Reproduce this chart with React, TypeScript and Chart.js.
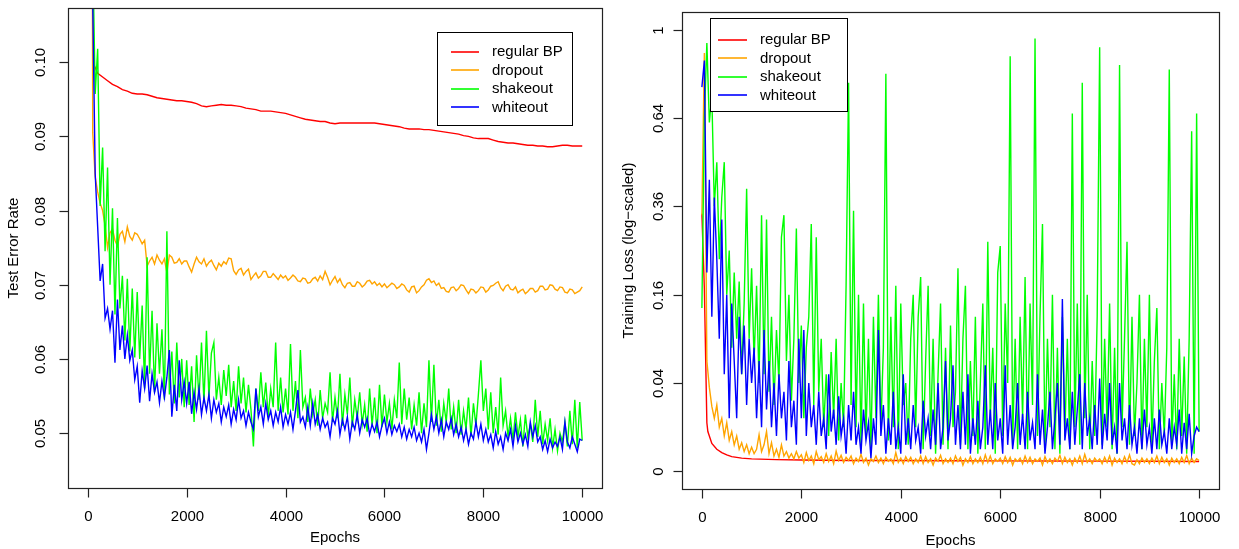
import React, { useEffect, useRef } from "react";
import { Chart, registerables } from "chart.js";

Chart.register(...registerables);

// ---------------- categories / ticks ----------------
const seriesNames = ["regular BP", "dropout", "shakeout", "whiteout"];
const fineEpochs = Array.from({ length: 201 }, (_, i) => i * 50);
const coarseEpochs = Array.from({ length: 101 }, (_, i) => i * 100);
const epochTicks = [0, 2000, 4000, 6000, 8000, 10000];
const epochTickLabels = ["0", "2000", "4000", "6000", "8000", "10000"];
const errorTicks = [0.05, 0.06, 0.07, 0.08, 0.09, 0.1];
const errorTickLabels = ["0.05", "0.06", "0.07", "0.08", "0.09", "0.10"];
const lossTicks = [0, 0.04, 0.16, 0.36, 0.64, 1];
const lossTickLabels = ["0", "0.04", "0.16", "0.36", "0.64", "1"];

// ---------------- left panel: test error rate ----------------
// coarse grid (every 100 epochs)
const regularBPError = [
  0.9, 0.1, 0.0985, 0.098, 0.0975, 0.097, 0.0967, 0.0963, 0.0961, 0.0958,
  0.0957, 0.0957, 0.0956, 0.0954, 0.0952, 0.0951, 0.095, 0.0949, 0.0948, 0.0948,
  0.0947, 0.0946, 0.0944, 0.0941, 0.094, 0.0941, 0.0942, 0.0943, 0.0942, 0.0942,
  0.0941, 0.094, 0.0938, 0.0937, 0.0936, 0.0934, 0.0934, 0.0934, 0.0933, 0.0932,
  0.0931, 0.0929, 0.0927, 0.0925, 0.0923, 0.0922, 0.0921, 0.092, 0.092, 0.0918,
  0.0917, 0.0918, 0.0918, 0.0918, 0.0918, 0.0918, 0.0918, 0.0918, 0.0918, 0.0917,
  0.0916, 0.0915, 0.0914, 0.0913, 0.0911, 0.091, 0.091, 0.091, 0.0909, 0.0909,
  0.0908, 0.0907, 0.0906, 0.0905, 0.0904, 0.0903, 0.0901, 0.09, 0.0898, 0.0897,
  0.0897, 0.0897, 0.0895, 0.0893, 0.0892, 0.0891, 0.0891, 0.089, 0.0889, 0.0888,
  0.0888, 0.0887, 0.0887, 0.0886, 0.0886, 0.0887, 0.0888, 0.0888, 0.0887, 0.0887,
  0.0887,
];
// fine grid (every 50 epochs)
const dropoutError = [
  0.9, 0.25, 0.0905, 0.0845, 0.0825, 0.081, 0.08, 0.078, 0.075, 0.077,
  0.0775, 0.076, 0.0752, 0.0768, 0.0772, 0.0758, 0.0778, 0.0765, 0.076, 0.077,
  0.0768, 0.0762, 0.0755, 0.076, 0.0725, 0.0732, 0.0737, 0.0728, 0.074, 0.0733,
  0.0728, 0.0735, 0.0716, 0.074, 0.0737, 0.0729, 0.073, 0.0735, 0.0728, 0.0732,
  0.0732, 0.0724, 0.0717, 0.0728, 0.0737, 0.0731, 0.0728, 0.0735, 0.0725, 0.073,
  0.0733, 0.0726, 0.072, 0.0729, 0.0725, 0.0731, 0.0728, 0.0736, 0.0735, 0.0719,
  0.0714, 0.072, 0.0722, 0.0713, 0.0718, 0.0721, 0.0707, 0.0712, 0.0716, 0.0709,
  0.0712, 0.0718, 0.0718, 0.071, 0.071, 0.0715, 0.0711, 0.0707, 0.0713, 0.0709,
  0.0712, 0.0706, 0.0709, 0.0713, 0.071, 0.0705, 0.0704, 0.0709, 0.0708, 0.0702,
  0.0703, 0.0708, 0.071, 0.0705, 0.0712, 0.0707, 0.0718, 0.071, 0.07, 0.0706,
  0.0711, 0.0703, 0.0708, 0.07, 0.0696, 0.0702, 0.0703, 0.0698, 0.0698, 0.0704,
  0.0702, 0.0697, 0.07, 0.0705, 0.0706, 0.0701, 0.0704, 0.0699, 0.0702, 0.0697,
  0.0701, 0.0696, 0.0699, 0.0702, 0.07, 0.0695, 0.0697, 0.0701, 0.0699, 0.0693,
  0.069, 0.0697, 0.0698, 0.0689, 0.0692, 0.0697, 0.07, 0.0706, 0.0708, 0.0703,
  0.0705, 0.0699, 0.0702, 0.0695, 0.0696, 0.0691, 0.069, 0.0696, 0.0697, 0.0692,
  0.0695, 0.07, 0.0699, 0.0693, 0.0688, 0.0694, 0.0693, 0.0689, 0.0692, 0.0697,
  0.0696, 0.069, 0.0693, 0.0698, 0.0699, 0.0702, 0.0704, 0.0696, 0.0692, 0.0698,
  0.07, 0.0694, 0.0693, 0.0697, 0.0689, 0.0692, 0.0694, 0.0688, 0.0691, 0.0695,
  0.0695, 0.069, 0.0692, 0.0698, 0.0698, 0.0693, 0.0694, 0.07, 0.0699, 0.0694,
  0.0692, 0.0697, 0.0696, 0.069, 0.0689, 0.0694, 0.0693, 0.0688, 0.069, 0.0692,
  0.0697,
];
const shakeoutError = [
  0.9, 0.3, 0.115, 0.0957, 0.1018, 0.0806, 0.0885, 0.0745, 0.0858, 0.07,
  0.0803, 0.066, 0.079, 0.0668, 0.0712, 0.0625, 0.0708, 0.061, 0.0695, 0.0602,
  0.069, 0.06, 0.0672, 0.056, 0.0737, 0.058, 0.0665, 0.0555, 0.0648, 0.058,
  0.064, 0.0545, 0.0772, 0.0552, 0.061, 0.054, 0.0622, 0.0548, 0.06, 0.0535,
  0.0598, 0.0538, 0.059, 0.0515, 0.0605, 0.0545, 0.0622, 0.054, 0.0638, 0.0548,
  0.0608, 0.0622, 0.0545, 0.0575, 0.0538, 0.0585, 0.055, 0.0592, 0.0535, 0.057,
  0.053, 0.059, 0.054, 0.0575, 0.0528, 0.0565, 0.0532, 0.0482, 0.056, 0.053,
  0.0582, 0.0535, 0.0568, 0.0522, 0.056, 0.0535, 0.0622, 0.053, 0.0575, 0.0528,
  0.056, 0.0525, 0.062, 0.053, 0.057, 0.052, 0.0612, 0.0535, 0.0548, 0.0515,
  0.056, 0.0525, 0.0545, 0.051, 0.0558, 0.052, 0.054, 0.0528, 0.0582, 0.0515,
  0.0548, 0.052, 0.058, 0.051, 0.0552, 0.0525, 0.0575, 0.0508, 0.0545, 0.052,
  0.0555, 0.0512, 0.0538, 0.0502, 0.056, 0.051, 0.0548, 0.05, 0.0565, 0.0508,
  0.0552, 0.0515, 0.054, 0.0505, 0.0545, 0.052, 0.0595, 0.0512, 0.056, 0.0518,
  0.0548, 0.0505, 0.0538, 0.051, 0.0555, 0.05, 0.054, 0.0508, 0.0598, 0.0515,
  0.0592, 0.051, 0.0545, 0.0502, 0.054, 0.0515, 0.056, 0.0505, 0.0535, 0.05,
  0.0545, 0.0498, 0.053, 0.0505, 0.0548, 0.0495, 0.054, 0.051, 0.0552, 0.0598,
  0.053, 0.056, 0.0505, 0.0555, 0.05, 0.0535, 0.0498, 0.0575, 0.051, 0.053,
  0.0495, 0.052, 0.049, 0.0528, 0.0495, 0.0518, 0.0482, 0.0525, 0.0495, 0.0512,
  0.0488, 0.0545, 0.0495, 0.053, 0.0485, 0.0512, 0.049, 0.052, 0.048, 0.0505,
  0.0476, 0.05, 0.0488, 0.0515, 0.0482, 0.053, 0.0485, 0.0545, 0.048, 0.0542,
  0.049,
];
const whiteoutError = [
  0.9, 0.25, 0.108, 0.085, 0.0778, 0.0705, 0.0728, 0.0655, 0.0668, 0.064,
  0.0665, 0.0595, 0.068, 0.0612, 0.0645, 0.06, 0.0632, 0.0598, 0.0612, 0.0572,
  0.059, 0.0541, 0.0584, 0.056, 0.0591, 0.0543, 0.058, 0.0555, 0.0569, 0.0541,
  0.057, 0.0548, 0.0575, 0.0612, 0.0522, 0.0565, 0.053, 0.0598, 0.0545, 0.0569,
  0.054, 0.0569, 0.0526, 0.0555, 0.0532, 0.056, 0.0525, 0.0548, 0.053, 0.0552,
  0.052, 0.0545, 0.0528, 0.054, 0.0515, 0.0535, 0.0522, 0.0538, 0.0512, 0.0532,
  0.0518, 0.0545, 0.052, 0.053, 0.051, 0.0528, 0.0515, 0.0505, 0.056, 0.0522,
  0.0535, 0.0512, 0.054, 0.0518, 0.053, 0.051, 0.0528, 0.0515, 0.0535, 0.0508,
  0.0525, 0.0512, 0.0528, 0.0505, 0.053, 0.0558, 0.0515, 0.0522, 0.0508, 0.0535,
  0.051, 0.054, 0.0512, 0.0525, 0.0505, 0.052, 0.0508, 0.0515, 0.0495, 0.052,
  0.0512, 0.053, 0.0498, 0.0518, 0.0505, 0.0522, 0.0492, 0.0515, 0.0505, 0.0525,
  0.05, 0.0518, 0.0508, 0.052, 0.0498, 0.0512, 0.0502, 0.0515, 0.0495, 0.051,
  0.052, 0.05, 0.0515, 0.0498, 0.051, 0.0502, 0.0512, 0.0495, 0.0508, 0.0492,
  0.0505, 0.0495, 0.0508, 0.049, 0.05, 0.0488, 0.0505, 0.0478, 0.05, 0.0525,
  0.0505, 0.0522, 0.05, 0.0518, 0.0495, 0.0515, 0.0505, 0.052, 0.0498, 0.0512,
  0.0495, 0.0508, 0.049, 0.0505, 0.0485, 0.05, 0.0492, 0.0515, 0.0495, 0.0512,
  0.049, 0.0505, 0.0488, 0.0498, 0.048, 0.0502, 0.0485, 0.0495, 0.0478, 0.05,
  0.049, 0.0505, 0.0482, 0.051, 0.0488, 0.05, 0.0485, 0.0498, 0.0482, 0.0515,
  0.0495, 0.051, 0.0488, 0.0495, 0.0478, 0.049, 0.0475, 0.0492, 0.048, 0.0488,
  0.0482, 0.0495, 0.0478, 0.0515, 0.0488, 0.048, 0.0495, 0.0485, 0.0475, 0.0492,
  0.049,
];

// ---------------- right panel: training loss ----------------
const regularBPLossEpochs = [0, 50, 100, 120, 150, 200, 300, 400, 500, 600, 800, 1000, 1500, 2000, 3000, 4000, 5000, 6000, 7000, 8000, 9000, 10000];
const regularBPLoss = [0.34, 0.17, 0.0121, 0.0081, 0.0064, 0.004, 0.0025, 0.0018, 0.0014, 0.0011, 0.0009, 0.0008, 0.0007, 0.00065, 0.0006, 0.0006, 0.00058, 0.00056, 0.00055, 0.00053, 0.00052, 0.0005];
// fine grid (every 50 epochs)
const dropoutLoss = [
  0.3364, 0.897, 0.0625, 0.0361, 0.0216, 0.0144, 0.0225, 0.01, 0.0144, 0.0064,
  0.0121, 0.0049, 0.0081, 0.0036, 0.0064, 0.0025, 0.0042, 0.002, 0.0036, 0.0016,
  0.003, 0.0016, 0.0025, 0.0069, 0.002, 0.0036, 0.0081, 0.0016, 0.0042, 0.0012,
  0.0025, 0.001, 0.0036, 0.0012, 0.002, 0.0009, 0.0016, 0.0008, 0.002, 0.0009,
  0.0014, 0.0004, 0.0018, 0.0006, 0.0012, 0.0003, 0.002, 0.0007, 0.0011, 0.0004,
  0.0016, 0.0005, 0.0012, 0.0003, 0.0021, 0.0006, 0.0013, 0.0004, 0.001, 0.0006,
  0.0012, 0.0003, 0.0009, 0.0005, 0.0015, 0.0004, 0.0009, 0.0002, 0.0008, 0.0005,
  0.0012, 0.0004, 0.0009, 0.0003, 0.001, 0.0005, 0.0008, 0.0003, 0.0018, 0.0004,
  0.0009, 0.0003, 0.0011, 0.0005, 0.001, 0.0003, 0.0008, 0.0004, 0.0012, 0.0003,
  0.0011, 0.0004, 0.0008, 0.0002, 0.0009, 0.0005, 0.0013, 0.0003, 0.0008, 0.0004,
  0.0009, 0.0003, 0.0012, 0.0005, 0.001, 0.0002, 0.0008, 0.0004, 0.0011, 0.0003,
  0.0008, 0.0004, 0.001, 0.0003, 0.0014, 0.0004, 0.0012, 0.0003, 0.0008, 0.0005,
  0.0009, 0.0003, 0.0011, 0.0004, 0.001, 0.0002, 0.0008, 0.0005, 0.0009, 0.0003,
  0.0012, 0.0004, 0.001, 0.0003, 0.0008, 0.0005, 0.0009, 0.0002, 0.0011, 0.0004,
  0.0008, 0.0003, 0.0009, 0.0005, 0.0013, 0.0003, 0.001, 0.0004, 0.0008, 0.0002,
  0.0009, 0.0004, 0.0012, 0.0003, 0.0015, 0.0004, 0.0008, 0.0003, 0.0009, 0.0005,
  0.0008, 0.0003, 0.001, 0.0004, 0.0012, 0.0002, 0.0009, 0.0004, 0.0008, 0.0003,
  0.0011, 0.0004, 0.0014, 0.0003, 0.0002, 0.0007, 0.0003, 0.0009, 0.0004, 0.0008,
  0.0003, 0.0009, 0.0004, 0.0012, 0.0003, 0.001, 0.0004, 0.0008, 0.0002, 0.0009,
  0.0004, 0.0008, 0.0003, 0.001, 0.0004, 0.0013, 0.0003, 0.0009, 0.0004, 0.0008,
  0.0006,
];
const shakeoutLoss = [
  0.1369, 0.64, 0.9409, 0.6241, 0.7225, 0.36, 0.49, 0.2304, 0.3844, 0.49,
  0.16, 0.25, 0.0784, 0.2025, 0.09, 0.1849, 0.0484, 0.1444, 0.4096, 0.09,
  0.2116, 0.0625, 0.1764, 0.04, 0.3364, 0.0484, 0.3249, 0.0324, 0.1225, 0.0225,
  0.1024, 0.04, 0.2809, 0.3364, 0.0625, 0.16, 0.0256, 0.09, 0.3025, 0.04,
  0.1089, 0.0144, 0.0784, 0.1225, 0.3136, 0.0225, 0.2809, 0.0324, 0.09, 0.01,
  0.0484, 0.0064, 0.0729, 0.0144, 0.09, 0.0049, 0.04, 0.01, 0.1764, 0.7744,
  0.0225, 0.3481, 0.01, 0.16, 0.0036, 0.1444, 0.0064, 0.09, 0.0025, 0.1225,
  0.0144, 0.16, 0.01, 0.0784, 0.81, 0.0049, 0.1225, 0.01, 0.1764, 0.0025,
  0.1444, 0.0225, 0.04, 0.0036, 0.09, 0.16, 0.01, 0.1225, 0.1936, 0.0025,
  0.0625, 0.1764, 0.0064, 0.09, 0.0016, 0.0484, 0.1444, 0.0036, 0.0784, 0.0025,
  0.1089, 0.01, 0.0324, 0.2116, 0.0036, 0.09, 0.1764, 0.0025, 0.0625, 0.0064,
  0.1225, 0.0016, 0.04, 0.1444, 0.0025, 0.2704, 0.0144, 0.0784, 0.0016, 0.2025,
  0.2601, 0.0064, 0.1444, 0.04, 0.8836, 0.0036, 0.09, 0.0025, 0.1225, 0.0144,
  0.1936, 0.0025, 0.1444, 0.0225, 0.9604, 0.0064, 0.1225, 0.3136, 0.0025, 0.09,
  0.01, 0.16, 0.0025, 0.0784, 0.0016, 0.1225, 0.0064, 0.09, 0.0025, 0.6561,
  0.01, 0.1444, 0.0036, 0.7744, 0.0144, 0.16, 0.0025, 0.0625, 0.0064, 0.1225,
  0.9216, 0.0036, 0.09, 0.01, 0.1444, 0.0025, 0.0784, 0.0016, 0.8464, 0.01,
  0.09, 0.2704, 0.0036, 0.1225, 0.0064, 0.04, 0.16, 0.0025, 0.09, 0.01,
  0.16, 0.0036, 0.0625, 0.1369, 0.0025, 0.04, 0.0064, 0.0784, 0.8281, 0.0036,
  0.0484, 0.0025, 0.09, 0.0064, 0.0676, 0.0016, 0.09, 0.5929, 0.0016, 0.6561,
  0.0081,
];
const whiteoutLoss = [
  0.7569, 0.8649, 0.2025, 0.4356, 0.1225, 0.3844, 0.2304, 0.09, 0.3249, 0.0484,
  0.16, 0.0144, 0.1444, 0.0625, 0.0144, 0.1225, 0.0484, 0.1089, 0.0225, 0.09,
  0.04, 0.0784, 0.0144, 0.0625, 0.01, 0.1024, 0.0196, 0.0625, 0.01, 0.04,
  0.0064, 0.0484, 0.0144, 0.0324, 0.0049, 0.0625, 0.01, 0.0256, 0.0036, 0.09,
  0.0144, 0.1024, 0.0064, 0.04, 0.01, 0.0225, 0.0036, 0.0324, 0.0064, 0.0144,
  0.0025, 0.0484, 0.0081, 0.0196, 0.0036, 0.0289, 0.0064, 0.0144, 0.0016, 0.0225,
  0.0049, 0.0324, 0.0036, 0.01, 0.0016, 0.0196, 0.0049, 0.0121, 0.0009, 0.0144,
  0.0036, 0.1024, 0.0064, 0.0225, 0.0016, 0.0144, 0.0036, 0.0324, 0.0025, 0.01,
  0.0016, 0.0484, 0.0036, 0.0144, 0.0025, 0.0225, 0.0049, 0.01, 0.0016, 0.0256,
  0.0064, 0.0144, 0.0025, 0.0196, 0.0036, 0.04, 0.0025, 0.01, 0.0625, 0.0049,
  0.0144, 0.0576, 0.0036, 0.0225, 0.0025, 0.0324, 0.0036, 0.0484, 0.0016, 0.0144,
  0.0036, 0.0256, 0.0025, 0.01, 0.0576, 0.0036, 0.0196, 0.0025, 0.04, 0.0049,
  0.0144, 0.0016, 0.0576, 0.0036, 0.0225, 0.0025, 0.01, 0.04, 0.0036, 0.0169,
  0.0025, 0.0324, 0.0049, 0.0121, 0.0025, 0.0484, 0.0036, 0.0196, 0.0016, 0.01,
  0.0324, 0.0025, 0.0144, 0.04, 0.0036, 0.1521, 0.0049, 0.0144, 0.0025, 0.0324,
  0.0036, 0.0196, 0.0484, 0.0025, 0.04, 0.0064, 0.0144, 0.0025, 0.0225, 0.0036,
  0.0441, 0.0025, 0.0169, 0.0049, 0.04, 0.0036, 0.01, 0.0016, 0.04, 0.0049,
  0.0144, 0.0025, 0.0225, 0.0036, 0.01, 0.0016, 0.0144, 0.0025, 0.0196, 0.0036,
  0.01, 0.0016, 0.0144, 0.0025, 0.0196, 0.0036, 0.0081, 0.0016, 0.0144, 0.0025,
  0.01, 0.0036, 0.0196, 0.0016, 0.0121, 0.0025, 0.0169, 0.0016, 0.0064, 0.01,
  0.0081,
];

// ---------------- styling ----------------
const COLORS = ["#FF0000", "#FFA500", "#00FF00", "#0000FF"];
const FONT = '15px "Liberation Sans", Arial, Helvetica, sans-serif';

type Pt = { x: number; y: number };
const zip = (xs: number[], ys: number[], f: (v: number) => number = (v) => v): Pt[] => {
  const n = Math.min(xs.length, ys.length);
  const out: Pt[] = [];
  for (let i = 0; i < n; i++) out.push({ x: xs[i], y: f(ys[i]) });
  return out;
};

type Spec = {
  width: number;
  height: number;
  pad: { left: number; right: number; top: number; bottom: number };
  yMin: number;
  yMax: number;
  series: Pt[][];
  yTicks: number[];
  yTickLabels: string[];
  yMap: (v: number) => number;
  yTitle: string;
  yLabelX: number;
  yTitleX: number;
  xLabelDy: number;
  xTitleDy: number;
  legend: { x: number; y: number; w: number; h: number; l0: number; l1: number; tx: number; rows: number[] };
};

const sq = (v: number) => Math.sqrt(v);

const leftSpec: Spec = {
  width: 620,
  height: 549,
  pad: { left: 68, right: 18, top: 8, bottom: 61 },
  yMin: 0.0426,
  yMax: 0.1073,
  series: [
    zip(coarseEpochs, regularBPError),
    zip(fineEpochs, dropoutError),
    zip(fineEpochs, shakeoutError),
    zip(fineEpochs, whiteoutError),
  ],
  yTicks: errorTicks,
  yTickLabels: errorTickLabels,
  yMap: (v) => v,
  yTitle: "Test Error Rate",
  yLabelX: 41,
  yTitleX: 14,
  xLabelDy: 29,
  xTitleDy: 50,
  legend: { x: 437, y: 32, w: 135, h: 93, l0: 451, l1: 479, tx: 492, rows: [51.5, 70, 88.5, 107] },
};

const rightSpec: Spec = {
  width: 619,
  height: 549,
  pad: { left: 62, right: 20, top: 12, bottom: 60 },
  yMin: -0.04,
  yMax: 1.04,
  series: [
    zip(regularBPLossEpochs, regularBPLoss, sq),
    zip(fineEpochs, dropoutLoss, sq),
    zip(fineEpochs, shakeoutLoss, sq),
    zip(fineEpochs, whiteoutLoss, sq),
  ],
  yTicks: lossTicks,
  yTickLabels: lossTickLabels,
  yMap: sq,
  yTitle: "Training Loss (log\u2212scaled)",
  yLabelX: 39,
  yTitleX: 9,
  xLabelDy: 29,
  xTitleDy: 52,
  legend: { x: 90, y: 18, w: 137, h: 93, l0: 98, l1: 127, tx: 140, rows: [39.5, 58, 76.5, 95] },
};

function makeDecorPlugin(spec: Spec) {
  return {
    id: "rDecor",
    afterDraw(chart: any) {
      const ctx: CanvasRenderingContext2D = chart.ctx;
      const a = chart.chartArea;
      const xs = chart.scales.x;
      const ys = chart.scales.y;
      ctx.save();
      ctx.strokeStyle = "#222";
      ctx.fillStyle = "#000";
      ctx.lineWidth = 1.2;
      // box
      ctx.strokeRect(a.left + 0.5, a.top + 0.5, a.right - a.left, a.bottom - a.top);
      ctx.font = FONT;
      ctx.textAlign = "center";
      ctx.textBaseline = "middle";
      // x ticks
      epochTicks.forEach((v, i) => {
        const px = Math.round(xs.getPixelForValue(v)) + 0.5;
        ctx.beginPath();
        ctx.moveTo(px, a.bottom + 0.5);
        ctx.lineTo(px, a.bottom + 9.5);
        ctx.stroke();
        ctx.fillText(epochTickLabels[i], px, a.bottom + spec.xLabelDy);
      });
      ctx.fillText("Epochs", (a.left + a.right) / 2, a.bottom + spec.xTitleDy);
      // y ticks
      spec.yTicks.forEach((v, i) => {
        const py = Math.round(ys.getPixelForValue(spec.yMap(v))) + 0.5;
        ctx.beginPath();
        ctx.moveTo(a.left + 0.5, py);
        ctx.lineTo(a.left - 8.5, py);
        ctx.stroke();
        ctx.save();
        ctx.translate(spec.yLabelX, py);
        ctx.rotate(-Math.PI / 2);
        ctx.fillText(spec.yTickLabels[i], 0, 0);
        ctx.restore();
      });
      ctx.save();
      ctx.translate(spec.yTitleX, (a.top + a.bottom) / 2);
      ctx.rotate(-Math.PI / 2);
      ctx.fillText(spec.yTitle, 0, 0);
      ctx.restore();
      // legend
      const L = spec.legend;
      ctx.fillStyle = "#fff";
      ctx.fillRect(L.x, L.y, L.w, L.h);
      ctx.strokeStyle = "#000";
      ctx.lineWidth = 1;
      ctx.strokeRect(L.x + 0.5, L.y + 0.5, L.w, L.h);
      ctx.textAlign = "left";
      seriesNames.forEach((name, i) => {
        const y = Math.round(L.rows[i]);
        ctx.strokeStyle = COLORS[i];
        ctx.lineWidth = 1.6;
        ctx.beginPath();
        ctx.moveTo(L.l0, y);
        ctx.lineTo(L.l1, y);
        ctx.stroke();
        ctx.fillStyle = "#000";
        ctx.fillText(name, L.tx, L.rows[i] + 0.5);
      });
      ctx.restore();
    },
  };
}

function Panel({ spec, left }: { spec: Spec; left: number }) {
  const ref = useRef<HTMLCanvasElement>(null);
  useEffect(() => {
    const canvas = ref.current;
    if (!canvas) return;
    const chart = new Chart(canvas, {
      type: "line",
      data: {
        datasets: spec.series.map((pts, i) => ({
          label: seriesNames[i],
          data: pts,
          borderColor: COLORS[i],
          backgroundColor: COLORS[i],
          borderWidth: 1.4,
          pointRadius: 0,
          tension: 0,
          fill: false,
          order: 4 - i,
        })),
      },
      options: {
        animation: false,
        responsive: false,
        devicePixelRatio: 1,
        events: [],
        layout: { padding: spec.pad },
        scales: {
          x: { type: "linear", min: -400, max: 10400, display: false },
          y: { type: "linear", min: spec.yMin, max: spec.yMax, display: false },
        },
        plugins: { legend: { display: false }, tooltip: { enabled: false }, title: { display: false } },
      },
      plugins: [makeDecorPlugin(spec)],
    } as any);
    return () => chart.destroy();
  }, []);
  return (
    <canvas
      ref={ref}
      width={spec.width}
      height={spec.height}
      style={{ position: "absolute", left, top: 0, width: spec.width, height: spec.height }}
    />
  );
}

export default function App() {
  return (
    <div style={{ position: "fixed", left: 0, top: 0, width: 1239, height: 549, background: "#fff", overflow: "hidden" }}>
      <Panel spec={leftSpec} left={0} />
      <Panel spec={rightSpec} left={620} />
    </div>
  );
}
